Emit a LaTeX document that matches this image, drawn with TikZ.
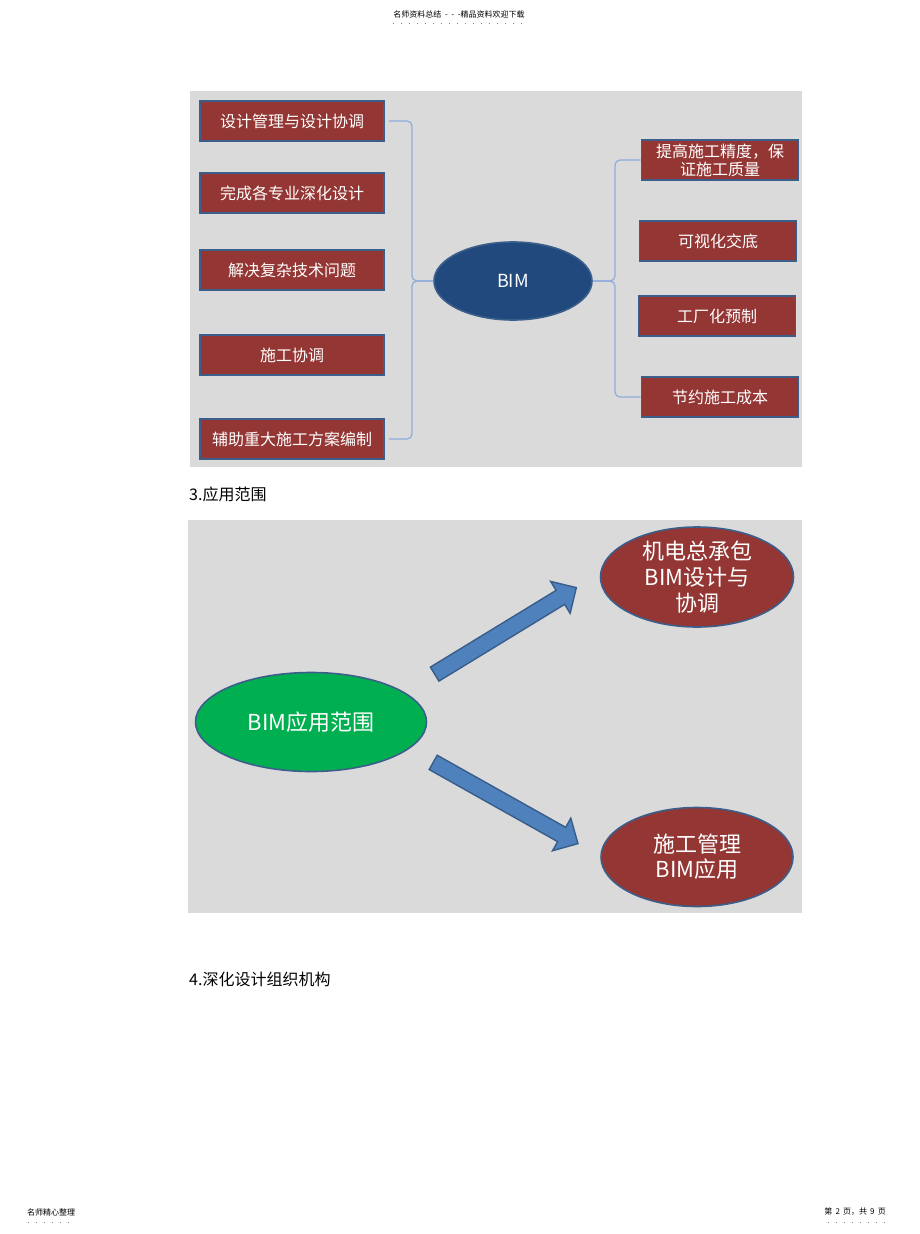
\documentclass[tikz,border=0pt]{standalone}
\usepackage{fontspec}
\setmainfont{Noto Sans CJK SC}
\usepackage{tikz}
\usepackage{xcolor}
\usetikzlibrary{shapes.geometric,shapes.arrows}
\definecolor{boxred}{RGB}{148,54,52}
\definecolor{rimblue}{RGB}{60,94,138}
\definecolor{hubblue}{RGB}{33,73,125}
\definecolor{linkblue}{RGB}{142,172,218}
\definecolor{panelgray}{RGB}{218,218,218}
\definecolor{rangegreen}{RGB}{0,176,80}
\definecolor{arrowblue}{RGB}{79,129,189}
\definecolor{arrowrim}{RGB}{56,93,138}
\begin{document}
\begin{tikzpicture}[x=1pt,y=-1pt]
	 \tikzstyle{panel}=[fill=panelgray]
	 \tikzstyle{item}=[rectangle,fill=boxred,draw=rimblue,line width=1.6pt,text=white,minimum height=40pt,inner sep=0pt,align=center,font=\fontsize{16}{18}\selectfont]
	 \tikzstyle{left item}=[item,minimum width=184pt]
	 \tikzstyle{right item}=[item,minimum width=157pt]
	 \tikzstyle{hub}=[ellipse,draw=rimblue,line width=1.6pt,inner sep=0pt,inner ysep=-8pt,text=white,align=center]
	 \tikzstyle{link}=[draw,line width=1.2pt,linkblue,rounded corners=5pt]
	 \tikzstyle{block arrow}=[single arrow,fill=arrowblue,draw=arrowrim,line width=1.4pt,inner xsep=0pt,inner ysep=7.5pt,minimum width=0pt,single arrow head extend=10.5pt]
	 \tikzstyle{caption}=[anchor=west,inner sep=0pt,font=\fontsize{16}{18}\selectfont]
	 \tikzstyle{margin note}=[inner sep=0pt,font=\fontsize{8}{9}\selectfont]
	 \tikzstyle{dots}=[draw,gray,line width=1pt,dash pattern=on 1pt off 7pt]
	 \useasboundingbox[fill=white] (0,0) rectangle (920,1234);
	 \node[margin note] (head) at (459,14) {名师资料总结 \ - \ - \ -精品资料欢迎下载};
	 \draw[dots] (393,23) -- (527,23);
	 \fill[panel] (190,91) rectangle (802,467);
	 \node[left item] (l1) at (292,121) {设计管理与设计协调};
	 \node[left item] (l2) at (292,193) {完成各专业深化设计};
	 \node[left item] (l3) at (292,270) {解决复杂技术问题};
	 \node[left item] (l4) at (292,355) {施工协调};
	 \node[left item] (l5) at (292,439) {辅助重大施工方案编制};
	 \node[hub,fill=hubblue,minimum width=158pt,minimum height=78pt,font=\fontsize{18}{20}\selectfont] (bim) at (513,281) {BIM};
	 \node[right item] (r1) at (720,160) {提高施工精度，保\\证施工质量};
	 \node[right item] (r2) at (718,241) {可视化交底};
	 \node[right item] (r3) at (717,316) {工厂化预制};
	 \node[right item] (r4) at (720,397) {节约施工成本};
	 \coordinate (left fork) at (412,281);
	 \coordinate (right fork) at (615,281);
	 \draw[link] ([xshift=4pt]l1.east) -| (left fork) -- (bim.west);
	 \draw[link] ([xshift=4pt]l5.east) -| (left fork) -- (bim.west);
	 \draw[link] (bim.east) -- (right fork) |- (r1.west);
	 \draw[link] (bim.east) -- (right fork) |- (r4.west);
	 \node[caption] (cap3) at (189,494) {3.应用范围};
	 \fill[panel] (188,520) rectangle (802,913);
	 \node[hub,fill=rangegreen,minimum width=231pt,minimum height=99pt,font=\fontsize{22}{26}\selectfont] (range) at (311,722) {BIM应用范围};
	 \node[hub,fill=boxred,minimum width=193pt,minimum height=100pt,font=\fontsize{22}{26}\selectfont] (mep) at (697,577) {机电总承包\\BIM设计与\\协调};
	 \node[hub,fill=boxred,minimum width=192pt,minimum height=99pt,font=\fontsize{22}{25}\selectfont] (site) at (697,857) {施工管理\\BIM应用};
	 \node[block arrow,minimum height=166pt,rotate=31.4] (up arrow) at (502,633) {};
	 \node[block arrow,minimum height=166pt,rotate=-29.3] (down arrow) at (502,801) {};
	 \node[caption] (cap4) at (189,979) {4.深化设计组织机构};
	 \node[margin note,anchor=west] (foot left) at (27,1212) {名师精心整理};
	 \draw[dots] (28,1222) -- (76,1222);
	 \node[margin note,anchor=east] (foot right) at (886,1212) {第 \,2\, 页，共 \,9\, 页};
	 \draw[dots] (828,1222) -- (891,1222);
 	\end{tikzpicture}
\end{document}
